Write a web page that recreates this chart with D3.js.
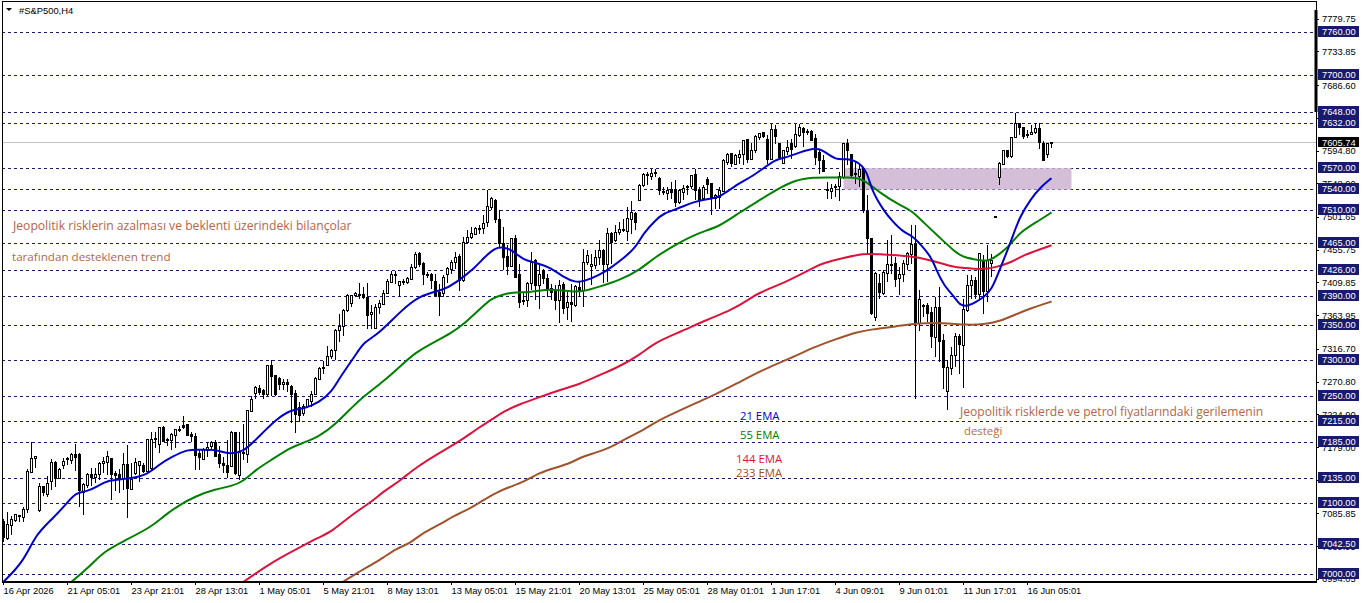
<!DOCTYPE html>
<html>
<head>
<meta charset="utf-8">
<script src="https://cdn.jsdelivr.net/npm/d3@7"></script>
<style>
  html, body { margin: 0; padding: 0; background: #fff; overflow: hidden; }
  text { font-family: "Liberation Sans", sans-serif; }
  .axis text { font-size: 9.3px; fill: #000; }
  .axis line { stroke: #000; shape-rendering: crispEdges; }
  .note { font-family: "Open Sans", sans-serif; }
</style>
</head>
<body>
<div id="chart"></div>
<script>
// candles, one value per H4 bar
const opens = [
  7074,7051,7069,7076,7081,7081,7092,7144,7163,7090,
  7124,7112,7131,7157,7135,7153,7161,7161,7169,7169,
  7116,7126,7141,7137,7140,7156,7158,7163,7142,7141,
  7134,7154,7120,7141,7153,7153,7144,7149,7190,7183,
  7207,7189,7188,7195,7202,7209,7211,7197,7194,7170,
  7162,7175,7179,7185,7168,7156,7153,7153,7199,7140,
  7170,7169,7229,7253,7261,7258,7252,7294,7279,7275,
  7266,7269,7264,7254,7235,7226,7235,7243,7253,7274,
  7289,7294,7305,7315,7342,7347,7370,7380,7391,7392,
  7393,7389,7364,7345,7374,7380,7394,7410,7420,7405,
  7410,7409,7414,7431,7450,7436,7421,7421,7411,7396,
  7395,7421,7428,7438,7446,7413,7466,7473,7477,7485,
  7486,7493,7515,7525,7498,7464,7446,7432,7471,7421,
  7384,7384,7408,7441,7406,7426,7415,7401,7399,7385,
  7407,7374,7382,7378,7403,7399,7438,7432,7434,7445,
  7455,7435,7478,7469,7480,7483,7481,7498,7506,7525,
  7546,7560,7559,7563,7556,7537,7535,7540,7540,7522,
  7535,7543,7544,7561,7539,7528,7554,7548,7528,7529,
  7538,7578,7590,7576,7585,7589,7610,7582,7594,7613,
  7620,7610,7582,7624,7604,7577,7594,7604,7600,7616,
  7625,7621,7622,7611,7592,7581,7540,7538,7543,7544,
  7558,7605,7589,7562,7558,7569,7509,7471,7361,7408,
  7395,7423,7434,7436,7415,7420,7434,7449,7463,7352,
  7377,7378,7367,7333,7375,7329,7258,7290,7307,7334,
  7322,7371,7406,7413,7393,7440,7396,7436,7502,7557,
  7576,7595,7587,7613,7632,7627,7616,7617,7620,7625,
  7605,7589,7606
];
const highs = [
  7078,7088,7082,7085,7084,7095,7148,7186,7167,7128,
  7125,7138,7162,7160,7149,7163,7165,7170,7183,7170,
  7128,7143,7149,7149,7158,7165,7173,7164,7146,7148,
  7170,7182,7156,7163,7160,7156,7190,7200,7200,7207,
  7208,7192,7198,7205,7208,7222,7212,7200,7198,7175,
  7177,7186,7188,7189,7180,7165,7189,7201,7200,7200,
  7211,7231,7251,7264,7266,7260,7294,7301,7280,7277,
  7274,7274,7266,7259,7242,7240,7246,7258,7277,7291,
  7300,7320,7316,7345,7366,7372,7393,7392,7396,7409,
  7403,7409,7378,7379,7385,7399,7414,7426,7426,7412,
  7415,7418,7436,7452,7452,7438,7424,7423,7421,7408,
  7420,7431,7441,7452,7449,7473,7483,7487,7487,7490,
  7504,7540,7530,7527,7511,7487,7463,7472,7476,7435,
  7396,7410,7452,7443,7436,7429,7422,7408,7406,7413,
  7410,7396,7408,7406,7410,7457,7455,7450,7455,7469,
  7457,7486,7480,7490,7494,7499,7516,7524,7508,7548,
  7563,7564,7569,7569,7557,7544,7544,7550,7553,7541,
  7546,7546,7561,7569,7543,7546,7557,7548,7534,7543,
  7583,7592,7592,7590,7595,7610,7611,7606,7616,7620,
  7620,7616,7632,7631,7605,7596,7609,7611,7632,7632,
  7628,7625,7623,7618,7595,7588,7551,7548,7548,7564,
  7606,7611,7590,7578,7574,7571,7533,7472,7424,7422,
  7427,7469,7476,7445,7431,7441,7452,7491,7491,7399,
  7380,7381,7376,7390,7404,7338,7301,7319,7339,7338,
  7386,7420,7420,7417,7451,7448,7462,7450,7503,7578,
  7596,7596,7614,7648,7634,7628,7623,7630,7634,7633,
  7608,7605,7607
];
const lows = [
  7046,7049,7056,7074,7074,7074,7087,7143,7149,7088,
  7110,7109,7119,7123,7134,7148,7154,7155,7146,7095,
  7084,7121,7124,7128,7133,7142,7140,7105,7118,7114,
  7119,7079,7119,7140,7130,7142,7143,7147,7177,7171,
  7186,7181,7175,7177,7200,7205,7195,7186,7147,7147,
  7161,7165,7176,7165,7149,7142,7135,7152,7140,7133,
  7161,7157,7228,7246,7252,7246,7250,7250,7250,7259,
  7259,7256,7213,7199,7214,7222,7234,7235,7252,7273,
  7282,7293,7302,7301,7326,7335,7368,7375,7389,7387,
  7387,7345,7345,7344,7366,7379,7393,7409,7408,7389,
  7406,7408,7413,7429,7431,7406,7416,7401,7390,7363,
  7389,7409,7421,7429,7398,7410,7464,7471,7476,7478,
  7478,7488,7511,7493,7459,7427,7420,7431,7416,7374,
  7378,7375,7399,7385,7373,7408,7389,7385,7371,7353,
  7366,7357,7354,7375,7389,7375,7434,7406,7429,7434,
  7409,7410,7436,7466,7476,7480,7468,7478,7483,7524,
  7544,7546,7553,7558,7532,7532,7525,7527,7515,7520,
  7525,7532,7541,7525,7515,7527,7534,7505,7513,7513,
  7536,7574,7571,7574,7576,7574,7577,7581,7592,7609,
  7613,7576,7581,7604,7583,7576,7588,7583,7599,7614,
  7600,7616,7609,7574,7562,7564,7527,7527,7529,7524,
  7555,7575,7558,7548,7543,7507,7449,7364,7356,7386,
  7392,7410,7422,7403,7392,7411,7427,7436,7247,7342,
  7362,7354,7318,7305,7298,7260,7231,7280,7291,7282,
  7262,7368,7387,7386,7387,7366,7382,7418,7501,7546,
  7575,7585,7585,7612,7616,7611,7613,7616,7618,7597,
  7580,7585,7599
];
const closes = [
  7051,7070,7077,7084,7083,7092,7145,7163,7166,7124,
  7115,7128,7157,7135,7148,7159,7163,7169,7165,7118,
  7127,7141,7137,7141,7156,7159,7166,7140,7139,7135,
  7154,7121,7134,7157,7159,7144,7189,7190,7191,7207,
  7188,7187,7196,7203,7204,7206,7196,7194,7168,7165,
  7176,7179,7185,7166,7155,7153,7143,7200,7141,7172,
  7172,7230,7246,7262,7256,7252,7293,7278,7253,7266,
  7269,7266,7253,7224,7224,7236,7245,7253,7275,7289,
  7290,7306,7314,7343,7348,7370,7391,7391,7394,7393,
  7389,7364,7367,7374,7380,7395,7411,7421,7421,7411,
  7411,7415,7431,7449,7434,7420,7420,7412,7392,7391,
  7417,7429,7438,7445,7413,7466,7473,7478,7485,7486,
  7493,7516,7527,7498,7464,7445,7432,7471,7417,7382,
  7383,7408,7438,7406,7421,7415,7399,7396,7385,7406,
  7374,7381,7379,7404,7399,7438,7448,7435,7445,7455,
  7435,7478,7466,7480,7484,7484,7499,7508,7493,7546,
  7561,7561,7563,7564,7539,7536,7539,7536,7522,7539,
  7541,7544,7560,7539,7527,7543,7547,7528,7532,7539,
  7581,7589,7576,7588,7589,7609,7582,7595,7614,7619,
  7614,7582,7624,7614,7585,7595,7599,7595,7617,7627,
  7620,7620,7610,7585,7581,7566,7539,7542,7544,7558,
  7605,7595,7560,7561,7568,7510,7471,7366,7422,7395,
  7424,7435,7435,7413,7421,7436,7450,7463,7352,7386,
  7376,7367,7333,7375,7328,7291,7291,7308,7334,7323,
  7372,7406,7413,7393,7450,7396,7440,7440,7502,7576,
  7595,7587,7613,7632,7627,7614,7617,7620,7625,7605,
  7581,7604,7605.74
];

// moving averages: bar number, then price
const ema21Bars = [0,5,8,12,16,18,21,23,26,31,36,39,42,46,49,53,56,60,63,65,68,72,75,79,82,84,89,90,94,99,104,110,113,118,120,123,125,127,130,133,137,140,143,145,149,152,155,158,160,163,165,169,172,177,179,183,187,190,193,195,199,203,205,208,211,214,216,217,220,222,225,227,229,232,233,235,238,239,241,243,245,247,249,252,254,257,259,262];
const ema21 = [6990,7018,7056,7077,7101,7115,7117,7122,7133,7134,7140,7155,7165,7176,7175,7176,7169,7172,7189,7200,7217,7232,7232,7242,7256,7276,7316,7325,7339,7368,7392,7399,7409,7431,7444,7459,7459,7456,7441,7438,7430,7417,7410,7411,7420,7431,7444,7458,7479,7497,7507,7514,7522,7528,7529,7546,7558,7570,7582,7584,7592,7599,7595,7581,7584,7578,7564,7539,7511,7497,7480,7476,7465,7445,7430,7406,7388,7378,7376,7382,7389,7399,7427,7469,7502,7528,7542,7556];
const ema55Bars = [17,22,25,30,37,40,44,48,53,57,60,63,67,72,75,79,83,87,90,95,99,103,108,112,115,119,122,125,127,132,134,138,142,145,149,154,159,163,169,174,179,184,189,193,198,203,205,212,214,217,219,224,227,230,234,238,240,244,246,249,252,254,259,262];
const ema55 = [6990,7014,7032,7047,7067,7082,7098,7110,7120,7124,7131,7147,7161,7179,7185,7194,7211,7234,7250,7271,7291,7312,7327,7339,7351,7372,7388,7393,7396,7396,7399,7400,7397,7397,7404,7413,7427,7446,7466,7480,7488,7508,7525,7539,7554,7557,7557,7557,7556,7546,7536,7518,7511,7494,7473,7452,7445,7441,7439,7449,7464,7480,7497,7508];
const ema144Bars = [60,67,73,79,82,87,92,95,99,103,109,114,119,122,125,129,134,139,144,149,154,159,163,169,176,182,187,188,197,203,205,210,215,219,224,229,233,237,240,245,248,252,255,259,262];
const ema144 = [6990,7017,7035,7053,7060,7084,7102,7117,7131,7150,7171,7187,7207,7217,7229,7239,7249,7259,7267,7280,7292,7308,7326,7340,7358,7371,7388,7393,7414,7432,7437,7444,7451,7449,7448,7445,7439,7432,7430,7428,7431,7438,7448,7456,7462];
const ema233Bars = [84,88,92,95,98,102,104,110,112,115,119,123,127,130,134,138,142,144,148,152,155,160,163,167,174,178,183,190,197,203,208,213,217,223,229,235,241,245,249,253,257,262];
const ema233 = [6987,7001,7014,7024,7036,7045,7056,7073,7081,7088,7101,7115,7124,7130,7143,7150,7157,7164,7171,7179,7189,7203,7214,7225,7243,7253,7267,7288,7304,7320,7330,7340,7344,7348,7353,7353,7350,7351,7355,7365,7374,7383];

// horizontal levels drawn on the chart
const levels = [7760,7700,7648,7632,7570,7540,7510,7465,7426,7390,7350,7300,7250,7215,7185,7135,7100,7042.5,7000];
const lastPrice = 7605.74;
const zonePrices = [7570,7540];
const zoneBars = [210,267];

// axes
const priceTicks = [7779.75,7733.85,7686.60,7640.70,7594.80,7548.90,7501.65,7455.75,7409.85,7363.95,7316.70,7270.80,7224.90,7179.00,7133.10,7085.85,7039.95,6994.05];
const timeLabels = ["16 Apr 2026","21 Apr 05:01","23 Apr 21:01","28 Apr 13:01","1 May 05:01","5 May 21:01","8 May 13:01","13 May 05:01","15 May 21:01","20 May 13:01","25 May 05:01","28 May 01:01","1 Jun 17:01","4 Jun 09:01","9 Jun 01:01","11 Jun 17:01","16 Jun 05:01"];

const width = 1362, height = 603;
const plotLeft = 2, plotRight = 1316, plotTop = 2, plotBottom = 582;

const svg = d3.select("#chart").append("svg")
    .attr("width", width)
    .attr("height", height)
    .style("display", "block");

const x = d3.scaleLinear().domain([0, 262]).range([3.5, 1051.5]);
const y = d3.scaleLinear().domain([7000, 7760]).range([574.7, 32.7]);
const snap = v => Math.round(v - 0.5) + 0.5;

svg.append("defs").append("clipPath").attr("id", "plot")
    .append("rect")
    .attr("x", plotLeft).attr("y", plotTop)
    .attr("width", plotRight - plotLeft).attr("height", plotBottom - plotTop);

const plot = svg.append("g").attr("clip-path", "url(#plot)");

// last price line
plot.append("line")
    .attr("x1", plotLeft).attr("x2", plotRight)
    .attr("y1", snap(y(lastPrice))).attr("y2", snap(y(lastPrice)))
    .attr("stroke", "#c0c0c0")
    .attr("shape-rendering", "crispEdges");

// dashed levels
plot.selectAll(".level").data(levels).join("line")
    .attr("class", "level")
    .attr("x1", plotLeft).attr("x2", plotRight)
    .attr("y1", d => snap(y(d))).attr("y2", d => snap(y(d)))
    .attr("stroke", "#191970")
    .attr("stroke-dasharray", "3,3")
    .attr("shape-rendering", "crispEdges");

// supply zone
plot.append("rect")
    .attr("x", x(zoneBars[0])).attr("width", x(zoneBars[1]) - x(zoneBars[0]))
    .attr("y", y(zonePrices[0])).attr("height", y(zonePrices[1]) - y(zonePrices[0]))
    .attr("fill", "#d5bfd8");

// candles
const bars = d3.range(opens.length);
const candle = plot.append("g").attr("shape-rendering", "crispEdges");
candle.selectAll(".wick").data(bars).join("line")
    .attr("class", "wick")
    .attr("x1", i => x(i)).attr("x2", i => x(i))
    .attr("y1", i => y(highs[i])).attr("y2", i => y(lows[i]))
    .attr("stroke", "#000");
candle.selectAll(".body").data(bars).join("rect")
    .attr("class", "body")
    .attr("x", i => x(i) - 1)
    .attr("width", 2)
    .attr("y", i => snap(y(Math.max(opens[i], closes[i]))))
    .attr("height", i => Math.max(1, Math.round(Math.abs(y(opens[i]) - y(closes[i])))))
    .attr("fill", i => closes[i] >= opens[i] ? "#fff" : "#000")
    .attr("stroke", "#000");

// moving averages
const line = d3.line().x(d => x(d[0])).y(d => y(d[1])).curve(d3.curveBasis);
const emas = [
    { bars: ema233Bars, values: ema233, color: "#a0522d" },
    { bars: ema144Bars, values: ema144, color: "#dc143c" },
    { bars: ema55Bars, values: ema55, color: "#008000" },
    { bars: ema21Bars, values: ema21, color: "#0000cd" }
];
emas.forEach(e => {
    plot.append("path")
        .attr("d", line(e.bars.map((b, i) => [b, e.values[i]])))
        .attr("fill", "none")
        .attr("stroke", e.color)
        .attr("stroke-width", 2);
});

// notes
const notes = [
    { text: "Jeopolitik risklerin azalması ve beklenti üzerindeki bilançolar", x: 13, y: 230, size: 12.15, color: "#b5654a" },
    { text: "tarafından desteklenen trend", x: 12, y: 261, size: 11.65, color: "#b5654a" },
    { text: "Jeopolitik risklerde ve petrol fiyatlarındaki gerilemenin", x: 960, y: 416, size: 12.1, color: "#b5654a" },
    { text: "desteği", x: 964, y: 435, size: 11.4, color: "#b5703a" },
    { text: "21 EMA", x: 740, y: 420, size: 11.3, color: "#0000cd" },
    { text: "55 EMA", x: 740, y: 439, size: 11.3, color: "#008000" },
    { text: "144 EMA", x: 736, y: 463, size: 11.4, color: "#dc143c" },
    { text: "233 EMA", x: 736, y: 477, size: 11.4, color: "#a0522d" }
];
svg.selectAll(".note").data(notes).join("text")
    .attr("class", "note")
    .attr("x", d => d.x).attr("y", d => d.y)
    .attr("fill", d => d.color)
    .style("font-size", d => d.size + "px")
    .text(d => d.text);

// title
svg.append("path").attr("d", "M6 8H12L9 11Z").attr("fill", "#000");
svg.append("text")
    .attr("x", 19).attr("y", 13.5)
    .style("font-size", "9.4px")
    .text("#S&P500,H4");

// axes
const yAxis = d3.axisRight(y)
    .tickValues(priceTicks)
    .tickSize(3)
    .tickPadding(3)
    .tickFormat(d3.format(".2f"));
svg.append("g").attr("class", "axis")
    .attr("transform", `translate(${plotRight},0)`)
    .call(yAxis)
    .call(g => g.select(".domain").remove());

const xAxis = d3.axisBottom(x)
    .tickValues(timeLabels.map((d, i) => i * 16))
    .tickSize(3)
    .tickPadding(2)
    .tickFormat((d, i) => timeLabels[i]);
svg.append("g").attr("class", "axis")
    .attr("transform", `translate(-0.5,${plotBottom})`)
    .call(xAxis)
    .call(g => g.select(".domain").remove())
    .selectAll("text").attr("text-anchor", "start");

// frame
svg.append("rect")
    .attr("x", plotLeft + 0.5).attr("y", plotTop - 0.5)
    .attr("width", plotRight - plotLeft).attr("height", plotBottom - plotTop + 0.5)
    .attr("fill", "none")
    .attr("stroke", "#000")
    .attr("stroke-width", 1.2)
    .attr("shape-rendering", "crispEdges");
svg.append("rect").attr("x", 1314.5).attr("y", 10).attr("width", 3).attr("height", 102).attr("fill", "#000");

// level price tags on the scale
const tag = svg.selectAll(".tag").data(levels).join("g")
    .attr("class", "tag")
    .attr("transform", d => `translate(1318,${snap(y(d)) - 6.5})`);
tag.append("rect").attr("width", 41).attr("height", 11).attr("fill", "#191970");
tag.append("text")
    .attr("x", 4).attr("y", 9)
    .attr("fill", "#fff")
    .style("font-size", "9.3px")
    .text(d => d3.format(".2f")(d));

const lastTag = svg.append("g")
    .attr("transform", `translate(1318,${snap(y(lastPrice)) - 5.5})`);
lastTag.append("rect").attr("width", 41).attr("height", 10).attr("fill", "#000");
lastTag.append("text")
    .attr("x", 4).attr("y", 8.5)
    .attr("fill", "#fff")
    .style("font-size", "9.3px")
    .text(d3.format(".2f")(lastPrice));
</script>
</body>
</html>
